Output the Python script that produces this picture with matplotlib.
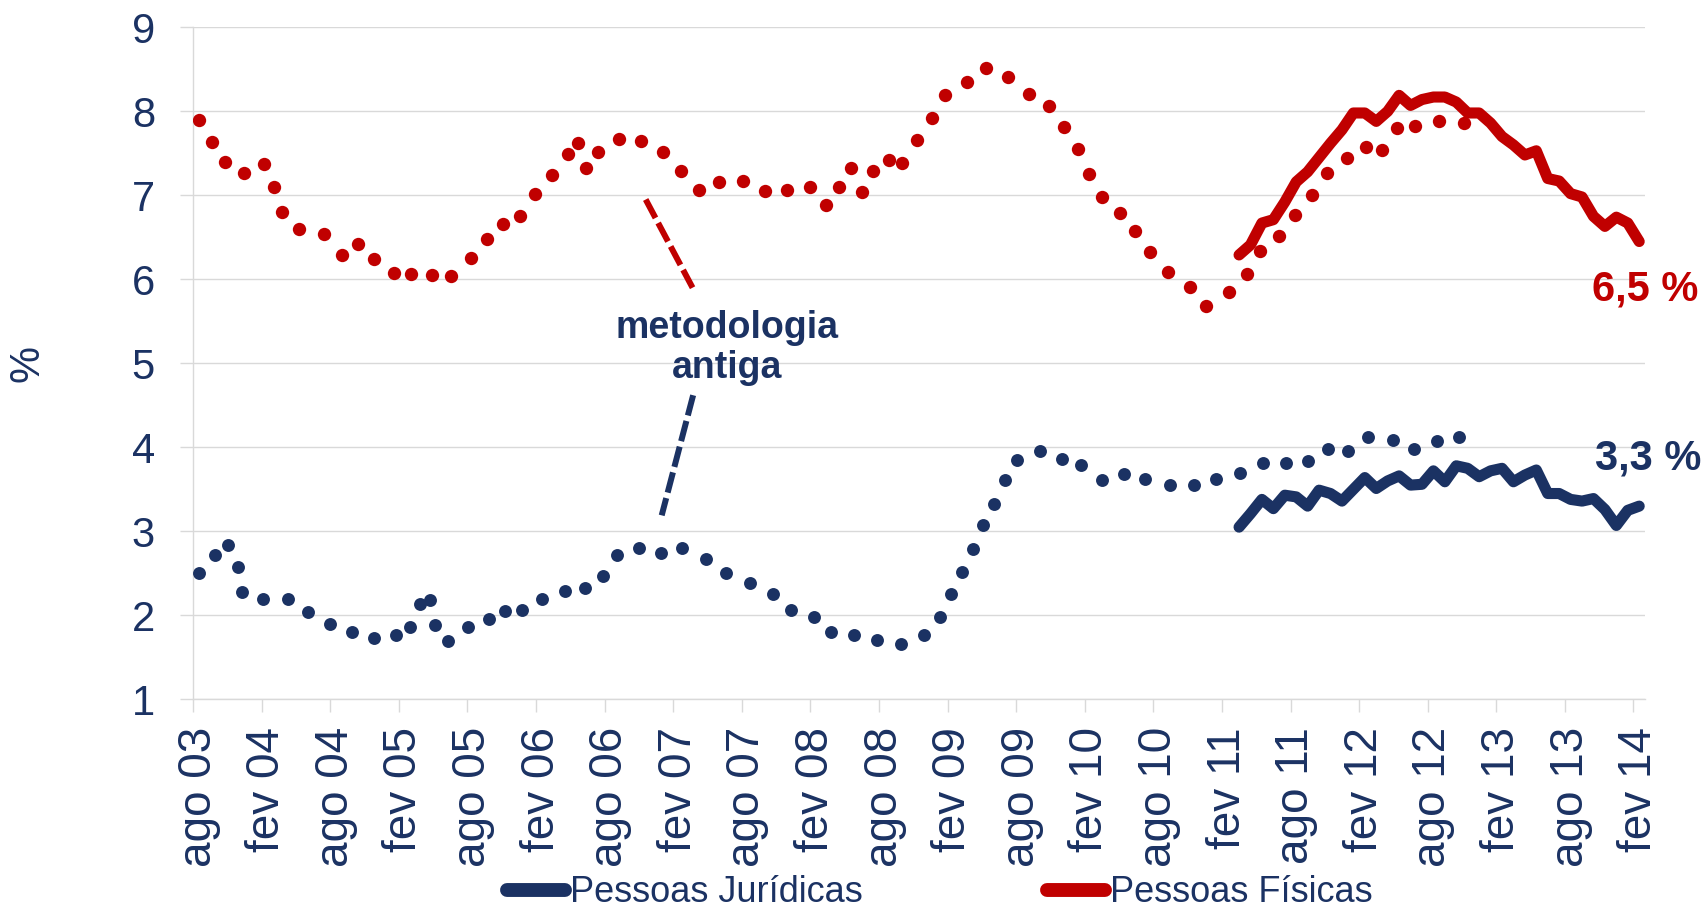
import matplotlib
matplotlib.use('Agg')
import matplotlib.pyplot as plt
import numpy as np

plt.rcParams['font.family'] = ['Liberation Sans', 'DejaVu Sans']

NAVY = '#1b3263'
RED = '#c00000'
GRID = '#d9d9d9'

# x tick labels (every 6 months, starting Aug 2003)
tick_labels = ['ago 03', 'fev 04', 'ago 04', 'fev 05', 'ago 05', 'fev 06', 'ago 06',
               'fev 07', 'ago 07', 'fev 08', 'ago 08', 'fev 09', 'ago 09', 'fev 10',
               'ago 10', 'fev 11', 'ago 11', 'fev 12', 'ago 12', 'fev 13', 'ago 13', 'fev 14']

# Old methodology, Pessoas Físicas (dots): months since Aug 2003, value (%)
pf_old_months = [0.0, 1.2, 2.3, 4.0, 5.7, 6.6, 7.3, 8.8, 11.0, 12.5, 13.9, 15.3, 17.1, 18.6,
                 20.4, 22.1, 23.8, 25.2, 26.6, 28.1, 29.4, 30.9, 32.3, 33.2, 33.9, 34.9, 36.8,
                 38.7, 40.6, 42.2, 43.8, 45.5, 47.6, 49.5, 51.5, 53.5, 54.9, 56.0, 57.1, 58.0,
                 59.0, 60.4, 61.5, 62.8, 64.1, 65.3, 67.2, 68.9, 70.8, 72.6, 74.4, 75.7, 76.9,
                 77.9, 79.0, 80.6, 81.9, 83.2, 84.8, 86.7, 88.1, 90.1, 91.7, 92.8, 94.5, 95.9,
                 97.4, 98.7, 100.4, 102.1, 103.5, 104.8, 106.4, 108.5, 110.7]
pf_old_values = [7.90, 7.63, 7.40, 7.26, 7.37, 7.10, 6.80, 6.60, 6.54, 6.29, 6.42, 6.24, 6.07, 6.06,
                 6.05, 6.04, 6.25, 6.48, 6.66, 6.75, 7.02, 7.24, 7.49, 7.62, 7.32, 7.51, 7.67,
                 7.65, 7.51, 7.29, 7.06, 7.16, 7.17, 7.05, 7.06, 7.10, 6.89, 7.10, 7.33, 7.04,
                 7.29, 7.42, 7.39, 7.66, 7.92, 8.19, 8.35, 8.51, 8.41, 8.21, 8.06, 7.81, 7.55,
                 7.25, 6.98, 6.79, 6.57, 6.32, 6.09, 5.91, 5.68, 5.85, 6.06, 6.34, 6.51, 6.77,
                 7.00, 7.26, 7.44, 7.58, 7.54, 7.80, 7.82, 7.88, 7.86]

# Old methodology, Pessoas Jurídicas (dots)
pj_old_months = [0.0, 1.4, 2.6, 3.4, 3.8, 5.6, 7.8, 9.6, 11.5, 13.4, 15.3, 17.3, 18.5, 19.4,
                 20.2, 20.7, 21.8, 23.6, 25.4, 26.8, 28.3, 30.0, 32.0, 33.8, 35.4, 36.6, 38.5,
                 40.4, 42.3, 44.4, 46.1, 48.2, 50.2, 51.8, 53.8, 55.3, 57.3, 59.3, 61.4, 63.4,
                 64.8, 65.8, 66.8, 67.7, 68.6, 69.6, 70.5, 71.6, 73.6, 75.5, 77.2, 79.0, 80.9,
                 82.8, 85.0, 87.1, 89.0, 91.1, 93.1, 95.1, 97.0, 98.8, 100.5, 102.3, 104.5,
                 106.3, 108.3, 110.2]
pj_old_values = [2.50, 2.72, 2.84, 2.58, 2.28, 2.20, 2.20, 2.04, 1.90, 1.80, 1.73, 1.77, 1.86, 2.13,
                 2.18, 1.89, 1.70, 1.86, 1.96, 2.05, 2.06, 2.20, 2.29, 2.32, 2.47, 2.72, 2.80,
                 2.74, 2.80, 2.67, 2.50, 2.38, 2.25, 2.06, 1.98, 1.80, 1.77, 1.71, 1.66, 1.76,
                 1.98, 2.25, 2.52, 2.79, 3.07, 3.33, 3.61, 3.85, 3.96, 3.86, 3.79, 3.61, 3.68,
                 3.62, 3.55, 3.55, 3.62, 3.69, 3.81, 3.81, 3.84, 3.98, 3.96, 4.12, 4.09, 3.98,
                 4.08, 4.12]

# New methodology, monthly from Mar 2011 (month 91 since Aug 2003) to Feb 2014
new_start_month = 91
pf_new = [6.29, 6.41, 6.67, 6.71, 6.92, 7.16, 7.28, 7.45, 7.62, 7.78, 7.98, 7.98, 7.88, 8.00,
          8.19, 8.07, 8.14, 8.17, 8.17, 8.11, 7.98, 7.98, 7.86, 7.70, 7.60, 7.48, 7.53, 7.20,
          7.17, 7.02, 6.98, 6.75, 6.63, 6.74, 6.67, 6.45]
pj_new = [3.05, 3.21, 3.38, 3.27, 3.43, 3.41, 3.30, 3.49, 3.45, 3.36, 3.50, 3.64, 3.51, 3.60,
          3.66, 3.55, 3.56, 3.72, 3.59, 3.78, 3.75, 3.65, 3.72, 3.75, 3.59, 3.67, 3.73, 3.45,
          3.45, 3.38, 3.36, 3.39, 3.26, 3.07, 3.25, 3.30]

n_months = 127  # Aug 2003 .. Feb 2014
x_new = np.arange(new_start_month, new_start_month + len(pf_new))

fig = plt.figure(figsize=(17.06, 9.10), dpi=100)
ax = fig.add_axes([0.1131, 0.2315, 0.8511, 0.7385])

ax.plot(pj_old_months, pj_old_values, 'o', color=NAVY, ms=9.3, mew=0, zorder=3)
ax.plot(pf_old_months, pf_old_values, 'o', color=RED, ms=9.6, mew=0, zorder=3)
l_pj, = ax.plot(x_new, pj_new, color=NAVY, lw=8, solid_capstyle='round',
                solid_joinstyle='round', zorder=4, label='Pessoas Jurídicas')
l_pf, = ax.plot(x_new, pf_new, color=RED, lw=8, solid_capstyle='round',
                solid_joinstyle='round', zorder=4, label='Pessoas Físicas')

ax.set_xlim(-0.5, n_months - 0.5)
ax.set_ylim(1, 9)

ax.set_xticks(np.arange(0, n_months, 6))
ax.set_xticklabels(tick_labels, rotation=90)
ax.set_xticks(np.arange(-0.5, n_months, 6), minor=True)
ax.tick_params(axis='x', which='major', length=0, pad=20, labelsize=33, labelcolor=NAVY)
ax.tick_params(axis='x', which='minor', length=9, width=1, color=GRID)

ax.set_yticks(range(1, 10))
ax.tick_params(axis='y', length=9.4, width=1, color=GRID, pad=18, labelsize=30, labelcolor=NAVY)

for s in ['top', 'right']:
    ax.spines[s].set_visible(False)
for s in ['left', 'bottom']:
    ax.spines[s].set_color(GRID)
    ax.spines[s].set_linewidth(1)
ax.grid(axis='y', color=GRID, lw=1)
ax.set_axisbelow(True)

fig.text(28 / 1706, 1 - 363 / 910, '%', rotation=90, fontsize=30, color=NAVY,
         ha='center', va='center')

ax.text(46.2, 5.18, 'metodologia\nantiga', ha='center', va='center', fontsize=27,
        fontweight='bold', color=NAVY, linespacing=1.15)
ax.plot([39.1, 43.2], [6.95, 5.90], color=RED, lw=4.3, ls=(0, (3.5, 0.95)))
ax.plot([43.25, 40.5], [4.62, 3.19], color=NAVY, lw=4.3, ls=(0, (3.5, 0.95)))

ax.text(126.5, 5.88, '6,5 %', ha='center', va='center', fontsize=30, fontweight='bold',
        color=RED, clip_on=False)
ax.text(126.8, 3.87, '3,3 %', ha='center', va='center', fontsize=30, fontweight='bold',
        color=NAVY, clip_on=False)

leg = fig.legend(handles=[l_pj, l_pf], loc='center', bbox_to_anchor=(0.551, 0.019), ncol=2,
                 frameon=False, fontsize=26, handlelength=1.6, handletextpad=0.15,
                 columnspacing=5.1, labelcolor=NAVY)
for h in leg.legend_handles:
    h.set_linewidth(10)

fig.savefig('out.png', dpi=100)
